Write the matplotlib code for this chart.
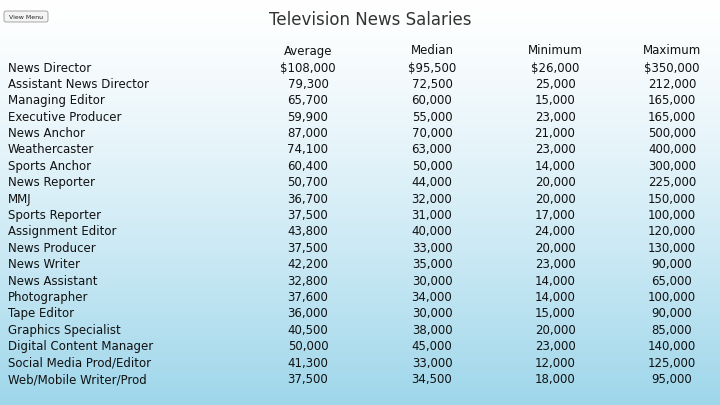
import numpy as np
import matplotlib.pyplot as plt
from matplotlib.patches import FancyBboxPatch

W, H = 720, 406

title = "Television News Salaries"
columns = ["Average", "Median", "Minimum", "Maximum"]
jobs = ["News Director", "Assistant News Director", "Managing Editor", "Executive Producer",
        "News Anchor", "Weathercaster", "Sports Anchor", "News Reporter", "MMJ",
        "Sports Reporter", "Assignment Editor", "News Producer", "News Writer",
        "News Assistant", "Photographer", "Tape Editor", "Graphics Specialist",
        "Digital Content Manager", "Social Media Prod/Editor", "Web/Mobile Writer/Prod"]
average = [108000, 79300, 65700, 59900, 87000, 74100, 60400, 50700, 36700, 37500,
           43800, 37500, 42200, 32800, 37600, 36000, 40500, 50000, 41300, 37500]
median = [95500, 72500, 60000, 55000, 70000, 63000, 50000, 44000, 32000, 31000,
          40000, 33000, 35000, 30000, 34000, 30000, 38000, 45000, 33000, 34500]
minimum = [26000, 25000, 15000, 23000, 21000, 23000, 14000, 20000, 20000, 17000,
           24000, 20000, 23000, 14000, 14000, 15000, 20000, 23000, 12000, 18000]
maximum = [350000, 212000, 165000, 165000, 500000, 400000, 300000, 225000, 150000, 100000,
           120000, 130000, 90000, 65000, 100000, 90000, 85000, 140000, 125000, 95000]

col_x = [308, 432, 555, 672]
row_y0, row_dy = 68, 16.4

fig = plt.figure(figsize=(7.2, 4.06), dpi=100)
ax = fig.add_axes([0, 0, 1, 1])
ax.set_xlim(0, W)
ax.set_ylim(H, 0)
ax.axis("off")

# background gradient white -> light blue
grad = np.linspace(0, 1, 256)[:, None]
top = np.array([1.0, 1.0, 1.0])
bot = np.array([0.62, 0.84, 0.92])
img = top + (bot - top) * grad[..., None] ** 1.3
ax.imshow(np.repeat(img, 2, axis=1), extent=[0, W, H, 0], aspect="auto", zorder=0)

# "View Menu" button
ax.add_patch(FancyBboxPatch((4, 12), 44, 11, boxstyle="round,pad=0,rounding_size=2",
                            fc="#f4f4f4", ec="#999999", lw=0.6, zorder=1))
ax.text(26, 17.5, "View Menu", fontsize=4.5, ha="center", va="center", color="#222222")

ax.text(370, 20, title, fontsize=12, ha="center", va="center", color="#333333")

for x, c in zip(col_x, columns):
    ax.text(x, 51, c, fontsize=8.5, ha="center", va="center", color="#111111")

for i, job in enumerate(jobs):
    y = row_y0 + i * row_dy
    ax.text(8, y, job, fontsize=8.5, ha="left", va="center", color="#111111")
    for x, vals in zip(col_x, [average, median, minimum, maximum]):
        s = f"{vals[i]:,}"
        if i == 0:
            s = "$" + s
        ax.text(x, y, s, fontsize=8.5, ha="center", va="center", color="#111111")

fig.savefig("out.png", dpi=100)
